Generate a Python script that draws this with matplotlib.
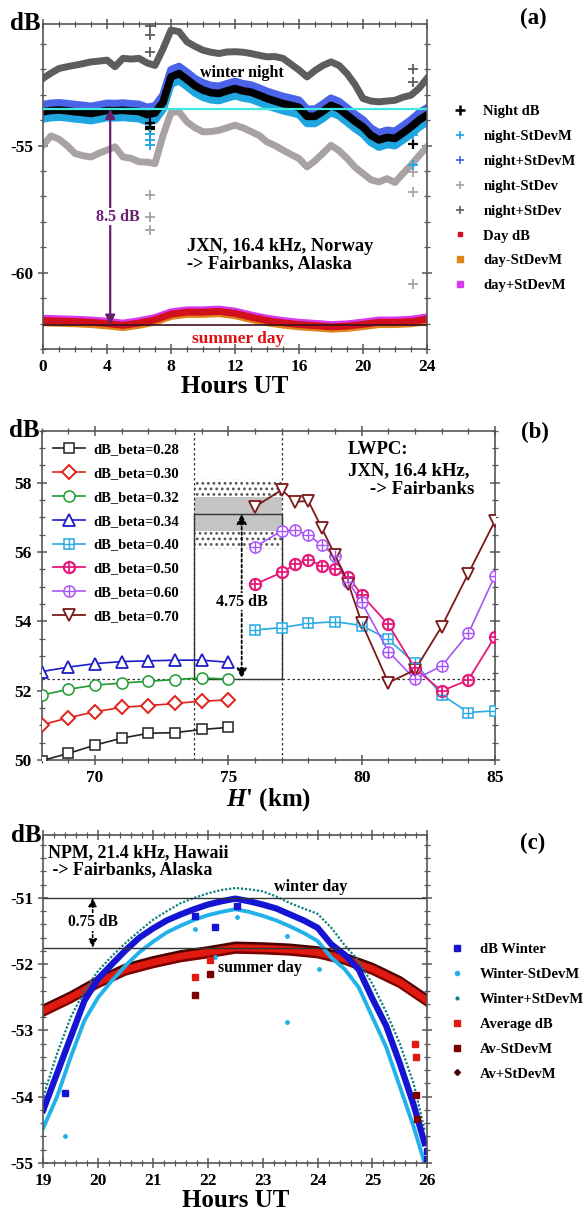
import matplotlib
matplotlib.use("Agg")
import matplotlib.pyplot as plt
from matplotlib.lines import Line2D
from matplotlib.patches import Rectangle
from matplotlib.ticker import MultipleLocator
import numpy as np

# ---------------------------
# Panel (a) data: JXN -> Fairbanks, hourly profiles
# ---------------------------
night_hours = [0, 0.5, 1, 1.5, 2, 2.5, 3, 3.5, 4, 4.5, 5, 5.5, 6, 6.5, 7, 7.5,
               8, 8.5, 9, 9.5, 10, 10.5, 11, 11.5, 12, 12.5, 13, 13.5, 14, 14.5,
               15, 15.5, 16, 16.5, 17, 17.5, 18, 18.5, 19, 19.5, 20, 20.5, 21,
               21.5, 22, 22.5, 23, 23.5, 24]
night_db = [-53.67, -53.62, -53.60, -53.63, -53.67, -53.70, -53.74, -53.68, -53.62,
            -53.63, -53.61, -53.64, -53.66, -53.78, -53.72, -53.30, -52.30, -52.17,
            -52.40, -52.65, -52.82, -52.92, -52.95, -52.85, -52.76, -52.85, -52.90,
            -53.02, -53.15, -53.25, -53.35, -53.42, -53.50, -53.85, -53.85, -53.65,
            -53.42, -53.55, -53.80, -54.05, -54.27, -54.60, -54.78, -54.68, -54.72,
            -54.50, -54.27, -54.00, -53.80]
night_plus_sd = [-52.36, -52.15, -51.97, -51.90, -51.84, -51.78, -51.71, -51.68, -51.64,
                 -51.90, -51.57, -51.60, -51.57, -51.75, -51.85, -51.20, -50.46, -50.52,
                 -50.92, -51.10, -51.25, -51.33, -51.38, -51.32, -51.31, -51.33, -51.38,
                 -51.45, -51.51, -51.50, -51.57, -51.80, -52.03, -52.30, -52.05, -51.85,
                 -51.71, -51.85, -52.17, -52.60, -53.15, -53.25, -53.28, -53.25, -53.22,
                 -53.10, -53.02, -52.75, -52.36]
night_minus_sd = [-54.99, -54.62, -54.75, -55.00, -55.31, -55.40, -55.45, -55.30, -55.18,
                  -55.05, -55.45, -55.50, -55.64, -55.65, -55.71, -54.60, -53.70, -53.67,
                  -54.07, -54.30, -54.46, -54.45, -54.40, -54.30, -54.20, -54.30, -54.45,
                  -54.60, -54.86, -55.00, -55.18, -55.35, -55.51, -55.84, -55.60, -55.30,
                  -54.99, -55.20, -55.50, -55.85, -56.10, -56.35, -56.43, -56.30, -56.45,
                  -56.10, -55.77, -55.40, -55.05]
night_sdm = 0.28

day_hours = list(range(25))
day_db = [-61.88, -61.90, -61.92, -61.95, -62.00, -62.07, -61.98, -61.85, -61.63,
          -61.55, -61.55, -61.52, -61.60, -61.75, -61.88, -61.97, -62.04, -62.08,
          -62.13, -62.10, -62.03, -61.95, -61.95, -61.92, -61.83]
day_sdm = 0.09

# scattered points around 6.7 h and 23.1 h
out_t_hi = [6.7, 6.7, 6.7, 23.1, 23.1]
out_v_hi = [-50.3, -50.66, -51.31, -51.97, -52.49]
out_t_lo = [6.7, 6.7, 6.7, 23.1, 23.1, 23.1]
out_v_lo = [-56.96, -57.81, -58.33, -56.04, -56.82, -60.43]
out_t_mean = [6.7, 6.7, 6.7, 23.1]
out_v_mean = [-54.13, -54.27, -54.36, -54.92]
out_t_m = [6.7, 6.7, 6.7, 23.1, 23.1]
out_v_m = [-54.53, -54.79, -54.99, -55.77, -54.6]

winter_night_level = -53.55
summer_day_level = -62.05

# ---------------------------
# Panel (b) data: LWPC runs vs H'
# ---------------------------
h_low = [68, 69, 70, 71, 72, 73, 74, 75]
beta_028 = [49.98, 50.19, 50.43, 50.63, 50.77, 50.79, 50.88, 50.94]
beta_030 = [51.01, 51.22, 51.39, 51.52, 51.57, 51.63, 51.70, 51.73]
beta_032 = [51.87, 52.04, 52.16, 52.22, 52.27, 52.32, 52.37, 52.33]
beta_034 = [52.55, 52.68, 52.78, 52.84, 52.86, 52.88, 52.88, 52.82]

h_040 = [76, 77, 78, 79, 80, 81, 82, 83, 84, 85]
beta_040 = [53.75, 53.82, 53.94, 53.99, 53.88, 53.48, 52.79, 51.88, 51.37, 51.42]

h_high = [76, 77, 77.5, 78, 78.5, 79, 79.5, 80, 81, 82, 83, 84, 85]
beta_050 = [55.07, 55.41, 55.64, 55.77, 55.61, 55.51, 55.29, 54.76, 53.91, 52.64, 51.99, 52.31, 53.56]
beta_060 = [56.15, 56.61, 56.63, 56.49, 56.20, 55.89, 55.14, 54.55, 53.13, 52.33, 52.71, 53.65, 55.32]
beta_070 = [57.31, 57.79, 57.45, 57.47, 56.70, 55.91, 55.09, 53.96, 52.23, 52.60, 53.85, 55.38, 56.90]

measured_day = 52.35
measured_night = 57.1

# ---------------------------
# Panel (c) data: NPM -> Fairbanks
# ---------------------------
winter_hours = [19.0, 19.25, 19.5, 19.75, 20.0, 20.25, 20.5, 20.75, 21.0, 21.25,
                21.5, 21.75, 22.0, 22.25, 22.5, 22.75, 23.0, 23.25, 23.5, 23.75,
                24.0, 24.25, 24.5, 24.75, 25.0, 25.25, 25.5, 25.75, 25.95]
winter_db = [-54.20, -53.65, -53.10, -52.55, -52.22, -52.00, -51.79, -51.60, -51.46,
             -51.34, -51.25, -51.17, -51.10, -51.05, -51.01, -51.05, -51.10, -51.16,
             -51.25, -51.34, -51.45, -51.70, -51.86, -52.08, -52.52, -52.93, -53.50,
             -54.12, -54.70]
winter_minus = [-54.47, -54.00, -53.40, -52.85, -52.50, -52.25, -52.02, -51.82, -51.66,
                -51.52, -51.42, -51.33, -51.26, -51.21, -51.17, -51.21, -51.27, -51.34,
                -51.43, -51.53, -51.65, -51.90, -52.08, -52.35, -52.80, -53.25, -53.85,
                -54.45, -55.00]
winter_plus = [-54.00, -53.35, -52.80, -52.40, -52.10, -51.88, -51.68, -51.50, -51.33,
               -51.20, -51.08, -51.00, -50.93, -50.88, -50.85, -50.87, -50.90, -50.98,
               -51.08, -51.16, -51.24, -51.45, -51.72, -51.95, -52.30, -52.72, -53.20,
               -53.80, -54.50]

summer_hours = [19.0, 19.5, 20.0, 20.5, 21.0, 21.5, 22.0, 22.5, 23.0, 23.5, 24.0, 24.5, 25.0, 25.5, 26.0]
summer_db = [-52.70, -52.50, -52.27, -52.08, -51.97, -51.88, -51.82, -51.75, -51.76,
             -51.78, -51.82, -51.92, -52.07, -52.27, -52.55]
summer_sdm = 0.045

wout_t = [19.4, 21.77, 22.13, 22.53, 26.0, 26.0]
wout_v = [-53.95, -51.27, -51.44, -51.12, -54.82, -54.94]
wmout_t = [19.4, 21.77, 22.53, 23.44, 23.44, 22.13, 24.02]
wmout_v = [-54.6, -51.47, -51.29, -51.57, -52.87, -51.89, -52.07]
aout_t = [21.77, 22.04, 25.78, 25.8]
aout_v = [-52.2, -51.94, -53.2, -53.4]
amout_t = [21.77, 22.04, 25.8, 25.82]
amout_v = [-52.47, -52.15, -53.97, -54.33]

winter_day_level = -51.0
summer_day_level_c = -51.75

# ---------------------------
# Style
# ---------------------------
plt.rcParams['font.family'] = ['Liberation Serif', 'DejaVu Serif']
plt.rcParams['font.weight'] = 'bold'
plt.rcParams['axes.labelweight'] = 'bold'
plt.rcParams['axes.unicode_minus'] = False
plt.rcParams['mathtext.fontset'] = 'custom'
plt.rcParams['mathtext.it'] = 'Liberation Serif:italic:bold'
plt.rcParams['mathtext.rm'] = 'Liberation Serif:bold'
plt.rcParams['hatch.linewidth'] = 1.2

W, H = 587, 1213
fig = plt.figure(figsize=(W / 100, H / 100), dpi=100)


def fx(px):
    return px / W


def fy(py):
    return 1 - py / H


def style_axes(ax):
    for s in ax.spines.values():
        s.set_color('#555555')
        s.set_linewidth(1.2)
    ax.tick_params(which='both', direction='inout', top=True, right=True,
                   colors='#555555', labelcolor='black', labelsize=12.5)
    ax.tick_params(which='major', length=7, width=1.1)
    ax.tick_params(which='minor', length=4, width=0.9)
    ax.text(-0.005, 1.0, 'dB', transform=ax.transAxes, ha='right', va='center',
            fontsize=18)


# ---------------------------
# Panel (a)
# ---------------------------
axA = fig.add_axes([fx(43), fy(349), 384 / W, 325.5 / H])
nh = np.array(night_hours)
nm = np.array(night_db)
axA.plot(nh, night_minus_sd, color='#a9a2a2', lw=5)
axA.plot(nh, night_plus_sd, color='#5f5c5c', lw=5)
axA.plot(nh, nm - night_sdm, color='#1fa5e0', lw=5.5)
axA.plot(nh, nm + night_sdm, color='#4a63e8', lw=5.5)
axA.plot(nh, nm, color='black', lw=5.5)
axA.plot(out_t_hi, out_v_hi, '+', color='#5f5c5c', ms=7, mew=1.3)
axA.plot(out_t_lo, out_v_lo, '+', color='#a9a2a2', ms=7, mew=1.3)
axA.plot(out_t_mean, out_v_mean, '+', color='black', ms=7, mew=1.6)
axA.plot(out_t_m, out_v_m, '+', color='#1fa5e0', ms=7, mew=1.3)
axA.axhline(winter_night_level, color='#40e8e0', lw=1.6, zorder=5)

dh = np.array(day_hours)
dm = np.array(day_db)
axA.plot(dh, dm - day_sdm, color='#e08418', lw=5)
axA.plot(dh, dm + day_sdm, color='#d838f0', lw=5)
axA.plot(dh, dm, color='#d0101a', lw=5)
axA.axhline(summer_day_level, color='#3a1020', lw=1.2, zorder=5)

axA.annotate('', xy=(4.2, summer_day_level), xytext=(4.2, winter_night_level),
             arrowprops=dict(arrowstyle='<|-|>', color='#66206e', lw=1.6,
                             shrinkA=0, shrinkB=0, mutation_scale=14), zorder=6)
axA.text(4.65, -57.8, '8.5 dB', color='#66206e', ha='center', va='center',
         fontsize=11.5, zorder=7,
         bbox=dict(facecolor='white', edgecolor='none', pad=0.5))
axA.text(12.4, -52.13, 'winter night', ha='center', va='center', fontsize=11.5, zorder=7)
axA.text(12.2, -62.6, 'summer day', ha='center', va='center', fontsize=12.5,
         color='#e01010', zorder=7)
axA.text(8.98, -59.3, 'JXN, 16.4 kHz, Norway\n-> Fairbanks, Alaska', ha='left',
         va='center', fontsize=13.2, linespacing=1.0, zorder=7)

axA.set_xlim(0, 24)
axA.set_ylim(-63, -50.2)
axA.xaxis.set_major_locator(MultipleLocator(4))
axA.xaxis.set_minor_locator(MultipleLocator(1))
axA.yaxis.set_major_locator(MultipleLocator(5))
axA.yaxis.set_minor_locator(MultipleLocator(1))
style_axes(axA)
axA.set_xlabel('Hours UT', fontsize=18, labelpad=0)

leg_a = [
    Line2D([], [], ls='none', marker='+', color='black', ms=7, mew=1.8),
    Line2D([], [], ls='none', marker='+', color='#1fa5e0', ms=6, mew=1.2),
    Line2D([], [], ls='none', marker='+', color='#4a63e8', ms=6, mew=1.2),
    Line2D([], [], ls='none', marker='+', color='#a9a2a2', ms=6, mew=1.2),
    Line2D([], [], ls='none', marker='+', color='#5f5c5c', ms=6, mew=1.2),
    Line2D([], [], ls='none', marker='s', color='#d0101a', ms=2.5),
    Line2D([], [], ls='none', marker='s', color='#e08418', ms=5),
    Line2D([], [], ls='none', marker='s', color='#d838f0', ms=5),
]
fig.legend(leg_a, ['Night dB', 'night-StDevM', 'night+StDevM', 'night-StDev',
                   'night+StDev', 'Day dB', 'day-StDevM', 'day+StDevM'],
           loc='upper left', bbox_to_anchor=(fx(452.7), fy(105)), frameon=False,
           fontsize=10.5, handlelength=1.0, handletextpad=1.1, labelspacing=0.8,
           borderpad=0, borderaxespad=0)
fig.text(fx(533), fy(18), '(a)', ha='center', va='center', fontsize=16.5)

# ---------------------------
# Panel (b)
# ---------------------------
axB = fig.add_axes([fx(41.7), fy(760), 453.3 / W, 329.3 / H])
for yy0, yy1 in [(56.1, 56.6), (57.6, 58.1)]:
    axB.add_patch(Rectangle((73.7, yy0), 3.3, yy1 - yy0, facecolor='none',
                            edgecolor='#555555', hatch='...', lw=0, zorder=1))
axB.add_patch(Rectangle((73.7, 56.6), 3.3, 1.0, facecolor='#c4c4c4',
                        edgecolor='none', zorder=1))
axB.add_patch(Rectangle((73.7, measured_day), 3.3, measured_night - measured_day,
                        fill=False, edgecolor='#333333', lw=1.0, zorder=2))
axB.axvline(73.7, color='#333333', ls=(0, (2, 2)), lw=0.9, zorder=1)
axB.axvline(77.0, color='#333333', ls=(0, (2, 2)), lw=0.9, zorder=1)
axB.axhline(measured_day, color='#333333', ls=(0, (2, 2)), lw=0.9, zorder=1)
axB.annotate('', xy=(75.5, measured_day), xytext=(75.5, measured_night),
             arrowprops=dict(arrowstyle='<|-|>', color='black', lw=1.3,
                             ls=(0, (1.5, 1.5)), shrinkA=0, shrinkB=0,
                             mutation_scale=15), zorder=3)
axB.text(75.5, 54.57, '4.75 dB', ha='center', va='center', fontsize=11.5, zorder=4,
         bbox=dict(facecolor='white', edgecolor='none', pad=0.5))

ms = 7
h1, = axB.plot(h_low, beta_028, '-s', color='#222222', mfc='white', ms=ms, mew=1.1, lw=1.2, zorder=5)
h2, = axB.plot(h_low, beta_030, '-D', color='#e0201a', mfc='white', ms=ms, mew=1.4, lw=1.2, zorder=5)
h3, = axB.plot(h_low, beta_032, '-o', color='#1e9a2e', mfc='white', ms=ms + 1, mew=1.1, lw=1.2, zorder=5)
h4, = axB.plot(h_low, beta_034, '-^', color='#1c1cc8', mfc='white', ms=ms + 1, mew=1.3, lw=1.2, zorder=5)
h5a, = axB.plot(h_040, beta_040, '-s', color='#27a9e1', mfc='white', ms=ms, mew=1.1, lw=1.2, zorder=5)
h5b, = axB.plot(h_040, beta_040, '+', color='#27a9e1', ms=ms, mew=1.0, zorder=6)
h6a, = axB.plot(h_high, beta_050, '-o', color='#e5197a', mfc='white', ms=ms + 1, mew=1.6, lw=1.3, zorder=5)
h6b, = axB.plot(h_high, beta_050, '+', color='#e5197a', ms=ms + 1, mew=1.3, zorder=6)
h7a, = axB.plot(h_high, beta_060, '-o', color='#a855f7', mfc='white', ms=ms + 1, mew=1.1, lw=1.2, zorder=5)
h7b, = axB.plot(h_high, beta_060, '+', color='#a855f7', ms=ms + 1, mew=1.0, zorder=6)
h8, = axB.plot(h_high, beta_070, '-v', color='#7b1a1a', mfc='white', ms=ms + 1, mew=1.3, lw=1.3, zorder=5)

axB.legend([h1, h2, h3, h4, (h5a, h5b), (h6a, h6b), (h7a, h7b), h8],
           ['dB_beta=0.28', 'dB_beta=0.30', 'dB_beta=0.32', 'dB_beta=0.34',
            'dB_beta=0.40', 'dB_beta=0.50', 'dB_beta=0.60', 'dB_beta=0.70'],
           loc='upper left', bbox_to_anchor=(fx(53), fy(443)),
           bbox_transform=fig.transFigure, frameon=False, fontsize=10.5,
           handlelength=2.2, handletextpad=0.6, labelspacing=0.73,
           borderpad=0, borderaxespad=0)

fig.text(fx(348), fy(450), 'LWPC:', ha='left', va='center', fontsize=13.5)
fig.text(fx(348), fy(471), 'JXN, 16.4 kHz,', ha='left', va='center', fontsize=13.5)
fig.text(fx(474), fy(489), '-> Fairbanks', ha='right', va='center', fontsize=13.5)

axB.set_xlim(68, 85)
axB.set_ylim(50, 59.5)
axB.xaxis.set_major_locator(MultipleLocator(5))
axB.xaxis.set_minor_locator(MultipleLocator(1))
axB.yaxis.set_major_locator(MultipleLocator(2))
axB.yaxis.set_minor_locator(MultipleLocator(0.5))
style_axes(axB)
axB.set_xlabel("$H$' (km)", fontsize=18, labelpad=0)
fig.text(fx(535), fy(432), '(b)', ha='center', va='center', fontsize=16.5)

# ---------------------------
# Panel (c)
# ---------------------------
axC = fig.add_axes([fx(43.3), fy(1163), 384 / W, 328 / H])
sh = np.array(summer_hours)
sm = np.array(summer_db)
axC.plot(sh, sm - summer_sdm, color='#7a0000', lw=4.5)
axC.plot(sh, sm + summer_sdm, color='#4a0000', lw=4.5)
axC.plot(sh, sm, color='#e01a10', lw=5)
axC.plot(winter_hours, winter_plus, color='#138080', lw=1.6, ls=(0, (1, 0.8)))
axC.plot(winter_hours, winter_minus, color='#22b2ea', lw=2.8)
axC.plot(winter_hours, winter_db, color='#1414d2', lw=4.5)
axC.plot(wout_t, wout_v, 's', color='#1414d2', ms=4)
axC.plot(wmout_t, wmout_v, 'o', color='#22b2ea', ms=2.5)
axC.plot(aout_t, aout_v, 's', color='#e01a10', ms=4)
axC.plot(amout_t, amout_v, 's', color='#7a0000', ms=4)
axC.axhline(winter_day_level, color='#333333', lw=1.0)
axC.axhline(summer_day_level_c, color='#333333', lw=1.0)

axC.annotate('', xy=(19.9, summer_day_level_c), xytext=(19.9, winter_day_level),
             arrowprops=dict(arrowstyle='<|-|>', color='black', lw=1.2,
                             ls=(0, (1.5, 1.5)), shrinkA=0, shrinkB=0,
                             mutation_scale=12), zorder=6)
axC.text(19.9, -51.37, '0.75 dB', ha='center', va='center', fontsize=11.2, zorder=7,
         bbox=dict(facecolor='white', edgecolor='none', pad=0.5))
axC.text(23.87, -50.84, 'winter day', ha='center', va='center', fontsize=11.6)
axC.text(22.95, -52.06, 'summer day', ha='center', va='center', fontsize=11.4)
axC.text(19.09, -50.44, 'NPM, 21.4 kHz, Hawaii\n -> Fairbanks, Alaska', ha='left',
         va='center', fontsize=12.9, linespacing=1.0)

axC.set_xlim(19, 26)
axC.set_ylim(-55, -50.05)
axC.xaxis.set_major_locator(MultipleLocator(1))
axC.xaxis.set_minor_locator(MultipleLocator(0.2))
axC.yaxis.set_major_locator(MultipleLocator(1))
axC.yaxis.set_minor_locator(MultipleLocator(0.2))
style_axes(axC)
axC.set_xlabel('Hours UT', fontsize=18, labelpad=0)

leg_c = [
    Line2D([], [], ls='none', marker='s', color='#1414d2', ms=4),
    Line2D([], [], ls='none', marker='o', color='#22b2ea', ms=3),
    Line2D([], [], ls='none', marker='o', color='#138080', ms=2),
    Line2D([], [], ls='none', marker='s', color='#e01a10', ms=4),
    Line2D([], [], ls='none', marker='s', color='#7a0000', ms=4),
    Line2D([], [], ls='none', marker='D', color='#4a0000', ms=3),
]
fig.legend(leg_c, ['dB Winter', 'Winter-StDevM', 'Winter+StDevM', 'Average dB',
                   'Av-StDevM', 'Av+StDevM'],
           loc='upper left', bbox_to_anchor=(fx(449.4), fy(943)), frameon=False,
           fontsize=10.5, handlelength=1.0, handletextpad=1.1, labelspacing=0.8,
           borderpad=0, borderaxespad=0)
fig.text(fx(533), fy(843), '(c)', ha='center', va='center', fontsize=16.5)

fig.savefig('out.png', dpi=100)
